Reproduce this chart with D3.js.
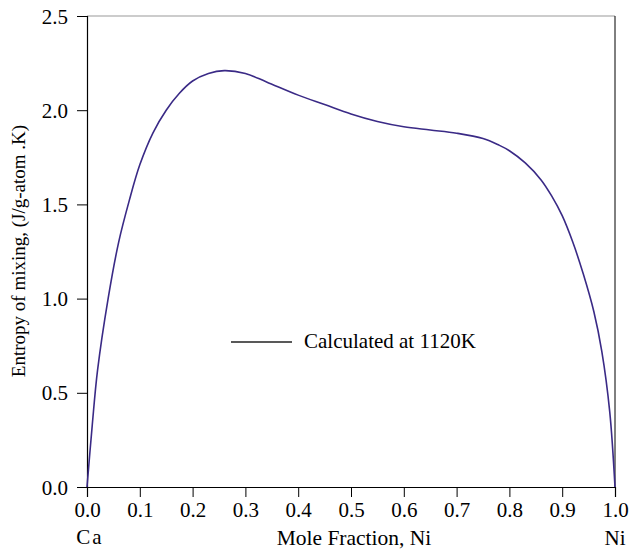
<!DOCTYPE html>
<html>
<head>
<meta charset="utf-8">
<script src="https://cdn.jsdelivr.net/npm/d3@7"></script>
<style>
  body { margin: 0; background: #fff; }
  text { font-family: "Liberation Serif", "DejaVu Serif", serif; }
</style>
</head>
<body>
<div id="app"></div>
<script>
// mole fraction Ni and entropy of mixing
const xNi = [0, 0.01, 0.02, 0.04, 0.06, 0.08, 0.1, 0.125, 0.15, 0.175, 0.2, 0.23, 0.26,
             0.3, 0.34, 0.4, 0.45, 0.5, 0.55, 0.6, 0.65, 0.7, 0.75, 0.78, 0.8, 0.83,
             0.86, 0.88, 0.9, 0.92, 0.94, 0.96, 0.975, 0.99, 1.0];
const entropy = [0, 0.33, 0.62, 1.0, 1.3, 1.52, 1.71, 1.88, 2.0, 2.09, 2.155, 2.195, 2.21,
                 2.195, 2.15, 2.08, 2.03, 1.98, 1.94, 1.912, 1.895, 1.878, 1.85, 1.815, 1.785, 1.72,
                 1.63, 1.545, 1.44, 1.3, 1.13, 0.93, 0.72, 0.4, 0];
const xTicks = [0, 0.1, 0.2, 0.3, 0.4, 0.5, 0.6, 0.7, 0.8, 0.9, 1.0];
const yTicks = [0, 0.5, 1.0, 1.5, 2.0, 2.5];
const legendLabel = "Calculated at 1120K";

const w = 629, h = 549;
const margin = { left: 87, right: 14, top: 16, bottom: 62 };

var svg = d3.select("#app").append("svg")
  .attr("width", w)
  .attr("height", h);

const x = d3.scaleLinear().domain([0, 1]).range([margin.left, w - margin.right]);
const y = d3.scaleLinear().domain([0, 2.5]).range([h - margin.bottom, margin.top]);

// frame: gray top, black right
svg.append("line")
  .attr("x1", x(0)).attr("x2", x(1))
  .attr("y1", y(2.5)).attr("y2", y(2.5))
  .attr("stroke", "#999").attr("stroke-width", 1);
svg.append("line")
  .attr("x1", x(1)).attr("x2", x(1))
  .attr("y1", y(2.5)).attr("y2", y(0))
  .attr("stroke", "#000").attr("stroke-width", 1);

var xAxis = svg.append("g")
  .attr("transform", "translate(0," + y(0) + ")")
  .call(d3.axisBottom(x).tickValues(xTicks).tickFormat(d3.format(".1f")).tickSize(10).tickPadding(5));
var yAxis = svg.append("g")
  .attr("transform", "translate(" + x(0) + ",0)")
  .call(d3.axisLeft(y).tickValues(yTicks).tickFormat(d3.format(".1f")).tickSize(10).tickPadding(9));

[xAxis, yAxis].forEach(function (g) {
  g.attr("font-family", null).attr("font-size", null);
  g.select(".domain").attr("stroke", "#000").attr("stroke-width", 1.2);
  g.selectAll(".tick line").attr("stroke", "#000");
  g.selectAll(".tick text")
    .attr("font-size", "21px")
    .attr("fill", "#000");
});
yAxis.selectAll(".tick text").attr("dy", "0.34em");

// axis titles
svg.append("text")
  .attr("x", 354).attr("y", 545)
  .attr("text-anchor", "middle")
  .attr("font-size", "21.5px")
  .text("Mole Fraction, Ni");
svg.append("text")
  .attr("x", 90).attr("y", 544)
  .attr("text-anchor", "middle")
  .attr("font-size", "21px")
  .attr("letter-spacing", "2px")
  .text("Ca");
svg.append("text")
  .attr("x", x(1)).attr("y", 545)
  .attr("text-anchor", "middle")
  .attr("font-size", "21px")
  .text("Ni");
svg.append("text")
  .attr("transform", "translate(25,251) rotate(-90)")
  .attr("text-anchor", "middle")
  .attr("font-size", "19px")
  .text("Entropy of mixing, (J/g-atom .K)");

// curve
const line = d3.line()
  .x(function (d, i) { return x(xNi[i]); })
  .y(function (d) { return y(d); })
  .curve(d3.curveCatmullRom.alpha(0.5));

svg.append("path")
  .datum(entropy)
  .attr("d", line)
  .attr("fill", "none")
  .attr("stroke", "#3a2a86")
  .attr("stroke-width", 1.6);

// legend
svg.append("line")
  .attr("x1", 231).attr("x2", 292)
  .attr("y1", 342).attr("y2", 342)
  .attr("stroke", "#222").attr("stroke-width", 1.5);
svg.append("text")
  .attr("x", 304).attr("y", 348)
  .attr("font-size", "21px")
  .text(legendLabel);
</script>
</body>
</html>
